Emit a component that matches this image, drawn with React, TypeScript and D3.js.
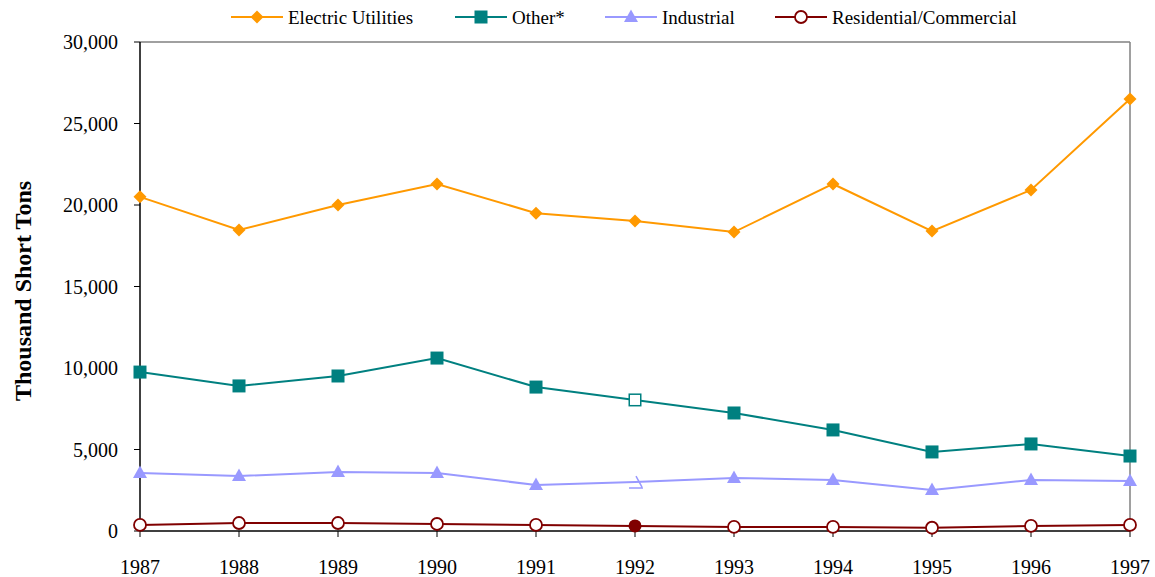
import React from "react";
import * as d3 from "d3";

const years = [1987, 1988, 1989, 1990, 1991, 1992, 1993, 1994, 1995, 1996, 1997];
const electricUtilities = [20500, 18470, 20000, 21290, 19500, 19020, 18340, 21290, 18400, 20920, 26500];
const other = [9750, 8900, 9510, 10610, 8830, 8040, 7240, 6200, 4850, 5340, 4600];
const industrial = [3560, 3370, 3620, 3560, 2820, 3000, 3250, 3130, 2520, 3130, 3070];
const residentialCommercial = [370, 490, 490, 430, 370, 310, 250, 250, 200, 310, 370];
const yTicks = [0, 5000, 10000, 15000, 20000, 25000, 30000];

const W = 1155;
const H = 577;
const left = 140, right = 1130, top = 42, bottom = 531;

type Series = { name: string; values: number[]; color: string; marker: string; legendX: number };

const series: Series[] = [
  { name: "Electric Utilities", values: electricUtilities, color: "#FF9900", marker: "diamond", legendX: 231 },
  { name: "Other*", values: other, color: "#008080", marker: "square", legendX: 455 },
  { name: "Industrial", values: industrial, color: "#9999FF", marker: "triangle", legendX: 605 },
  { name: "Residential/Commercial", values: residentialCommercial, color: "#800000", marker: "circle", legendX: 775 },
];

const FONT = '"Liberation Serif", "Times New Roman", Times, serif';

function Marker({ type, x, y, color, special }: { type: string; x: number; y: number; color: string; special?: boolean }) {
  if (type === "diamond") {
    const r = 6.5;
    return <path d={`M${x},${y - r}L${x + r},${y}L${x},${y + r}L${x - r},${y}Z`} fill={color} />;
  }
  if (type === "square") {
    const s = 13;
    if (special) {
      return <rect x={x - s / 2 + 0.75} y={y - s / 2 + 0.75} width={s - 1.5} height={s - 1.5} fill="#fff" stroke={color} strokeWidth={1.5} />;
    }
    return <rect x={x - s / 2} y={y - s / 2} width={s} height={s} fill={color} />;
  }
  if (type === "triangle") {
    if (special) {
      return <path d={`M${x + 1},${y - 6}L${x + 7},${y + 5}M${x - 6},${y + 6}L${x + 8},${y + 6}`} fill="none" stroke={color} strokeWidth={1.5} />;
    }
    return <path d={`M${x},${y - 7.5}L${x + 7},${y + 5}L${x - 7},${y + 5}Z`} fill={color} />;
  }
  if (special) {
    return <circle cx={x} cy={y} r={6.5} fill={color} />;
  }
  return <circle cx={x} cy={y} r={6} fill="#fff" stroke={color} strokeWidth={1.8} />;
}

export default function App() {
  const x = d3.scaleLinear().domain([years[0], years[years.length - 1]]).range([left, right]);
  const y = d3.scaleLinear().domain([0, 30000]).range([bottom, top]);
  const line = d3
    .line<number>()
    .x((_, i) => x(years[i]))
    .y((d) => y(d));
  const fmt = d3.format(",");
  const ts = { fontFamily: FONT };

  return (
    <div style={{ position: "absolute", left: 0, top: 0 }}>
      <svg width={W} height={H} style={{ display: "block", background: "#fff", fontFamily: FONT }}>
        <rect x={0} y={0} width={W} height={H} fill="#fff" />
        <line x1={left} x2={right} y1={top} y2={top} stroke="#808080" strokeWidth={1.5} />
        <line x1={right} x2={right} y1={top} y2={bottom} stroke="#808080" strokeWidth={1.5} />
        {yTicks.map((t) => (
          <g key={t}>
            <line x1={left - 6} x2={left} y1={y(t)} y2={y(t)} stroke="#000" strokeWidth={1} />
            <text x={118} y={y(t)} dy="0.35em" textAnchor="end" fontSize={20} fill="#000" style={ts}>
              {fmt(t)}
            </text>
          </g>
        ))}
        {years.map((yr) => (
          <g key={yr}>
            <line x1={x(yr)} x2={x(yr)} y1={bottom} y2={bottom + 6} stroke="#000" strokeWidth={1} />
            <text x={x(yr)} y={574} textAnchor="middle" fontSize={20} fill="#000" style={ts}>
              {yr}
            </text>
          </g>
        ))}
        <line x1={left} x2={left} y1={top} y2={bottom} stroke="#000" strokeWidth={1.5} />
        <line x1={left} x2={right} y1={bottom} y2={bottom} stroke="#000" strokeWidth={1.5} />
        <text
          transform={`translate(31,291) rotate(-90)`}
          textAnchor="middle"
          fontSize={24}
          fontWeight="bold"
          fill="#000"
          style={ts}
        >
          Thousand Short Tons
        </text>
        {series.map((s) => (
          <g key={s.name}>
            <path d={line(s.values) || ""} fill="none" stroke={s.color} strokeWidth={2} />
            {s.values.map((v, i) => (
              <Marker key={i} type={s.marker} x={x(years[i])} y={y(v)} color={s.color} special={years[i] === 1992 && s.marker !== "diamond"} />
            ))}
          </g>
        ))}
        {series.map((s) => (
          <g key={"lg" + s.name}>
            <line x1={s.legendX} x2={s.legendX + 52} y1={17} y2={17} stroke={s.color} strokeWidth={2} />
            <Marker type={s.marker} x={s.legendX + 26} y={17} color={s.color} />
            <text x={s.legendX + 57} y={17} dy="0.35em" fontSize={19} fill="#000" style={ts}>
              {s.name}
            </text>
          </g>
        ))}
      </svg>
    </div>
  );
}
